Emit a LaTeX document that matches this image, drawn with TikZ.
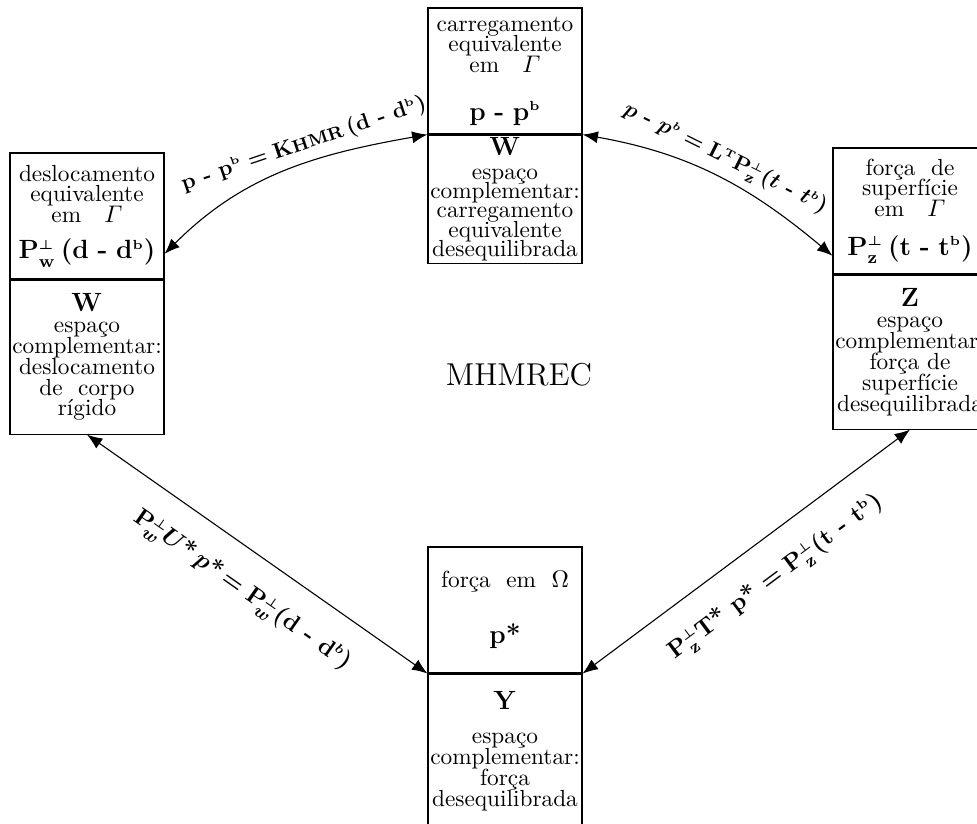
\documentclass[tikz,border=0pt]{standalone}
\usepackage{amsmath,amssymb}
\usepackage{tikz}
\usetikzlibrary{arrows.meta,positioning}

\newcommand{\ortp}{^{\scriptscriptstyle\perp}}

\begin{document}
\begin{tikzpicture}[
  box/.style={draw, line width=0.5pt, minimum width=2.464cm, align=center,
    inner sep=1pt, font=\fontsize{10.6}{9.5}\selectfont\setlength{\lineskiplimit}{-6pt}},
  upper/.style={box, minimum height=2.016cm},
  lower/.style={box, minimum height=#1},
  link/.style={{Latex[length=7pt,width=5.5pt]}-{Latex[length=7pt,width=5.5pt]},
    line width=0.5pt},
  lbl/.style={sloped, font=\fontsize{9.8}{12}\selectfont\bfseries\boldmath}
]
  \useasboundingbox (0,0) rectangle (15.632,13.168);

  % caixas
  \node[upper] (carga) at (8.08,12.032)
    {carregamento\\equivalente\\em\quad$\varGamma$\\[12pt]
     {\large\boldmath$\mathbf{p}$ \textbf{-} $\mathbf{p}^{\scriptscriptstyle\mathrm{b}}$}};
  \node[lower=2.048cm, below=0pt of carga,
    font=\fontsize{10.6}{8.8}\selectfont\setlength{\lineskiplimit}{-6pt}] (cargaW)
    {{\large$\mathbf{W}$}\\[2pt]espaço\\complementar:\\carregamento\\equivalente\\desequilibrada};

  \node[upper] (desl) at (1.392,9.712)
    {deslocamento\\equivalente\\em\quad$\varGamma$\\[7pt]
     {\large\boldmath$\mathbf{P}\ortp_{\mathbf{w}}\,(\mathbf{d}$ \textbf{-} $\mathbf{d}^{\scriptscriptstyle\mathrm{b}})$}};
  \node[lower=2.464cm, below=0pt of desl] (deslW)
    {{\large$\mathbf{W}$}\\espaço\\complementar:\\deslocamento\\de\ \ corpo\\rígido};

  \node[upper] (forca) at (14.56,9.792)
    {força\ \ de\\superfície\\em\quad$\varGamma$\\[8pt]
     {\large\boldmath$\mathbf{P}\ortp_{\mathbf{z}}\,(\mathbf{t}$ \textbf{-} $\mathbf{t}^{\scriptscriptstyle\mathrm{b}})$}};
  \node[lower=2.464cm, below=0pt of forca] (forcaZ)
    {{\large$\mathbf{Z}$}\\espaço\\complementar:\\força de\\superfície\\desequilibrada};

  \node[upper] (forOm) at (8.08,3.408)
    {força\ \ em\ \ $\Omega$\\[16pt]{\large\textbf{p*}}};
  \node[lower=2.464cm, below=0pt of forOm] (forOmY)
    {{\large$\mathbf{Y}$}\\[6pt]espaço\\complementar:\\força\\desequilibrada};

  \node[font=\Large] (mhm) at (8.304,7.168) {MHMREC};

  % relacoes
  \draw[link] (desl.-26) to[out=45,in=190]
    node[lbl, above=0pt, pos=0.6] {$\mathbf{p}$ - $\mathbf{p}^{\scriptscriptstyle\mathrm{b}}=\mathbf{K}${\footnotesize HMR}$\,(\mathbf{d}$ - $\mathbf{d}^{\scriptscriptstyle\mathrm{b}})$}
    (carga.south west);
  \draw[link] (carga.south east) to[out=-10,in=140]
    node[lbl, above=0pt, pos=0.5] {$p$ - $p^{\scriptscriptstyle b}=\mathbf{L}^{\scriptscriptstyle\mathrm{T}}\mathbf{P}\ortp_{\mathbf{z}}(t$ - $t^{\scriptscriptstyle b})$}
    (forca.210);
  \draw[link] (deslW.south) --
    node[lbl, below=8pt, pos=0.52, font=\fontsize{11.2}{13}\selectfont\bfseries\boldmath]
    {$\mathbf{P}\ortp_{\!w}U$*\,$p$*$\,=\mathbf{P}\ortp_{\!w}(\mathbf{d}$ - $\mathbf{d}^{\scriptscriptstyle b})$}
    (forOm.south west);
  \draw[link] (forOm.south east) --
    node[lbl, below=8pt, pos=0.52, font=\fontsize{11.2}{13}\selectfont\bfseries\boldmath]
    {$\mathbf{P}\ortp_{\mathbf{z}}\mathbf{T}$* $\mathbf{p}$* $=\mathbf{P}\ortp_{\mathbf{z}}(\mathbf{t}$ - $\mathbf{t}^{\scriptscriptstyle\mathrm{b}})$}
    (forcaZ.south);
\end{tikzpicture}
\end{document}
